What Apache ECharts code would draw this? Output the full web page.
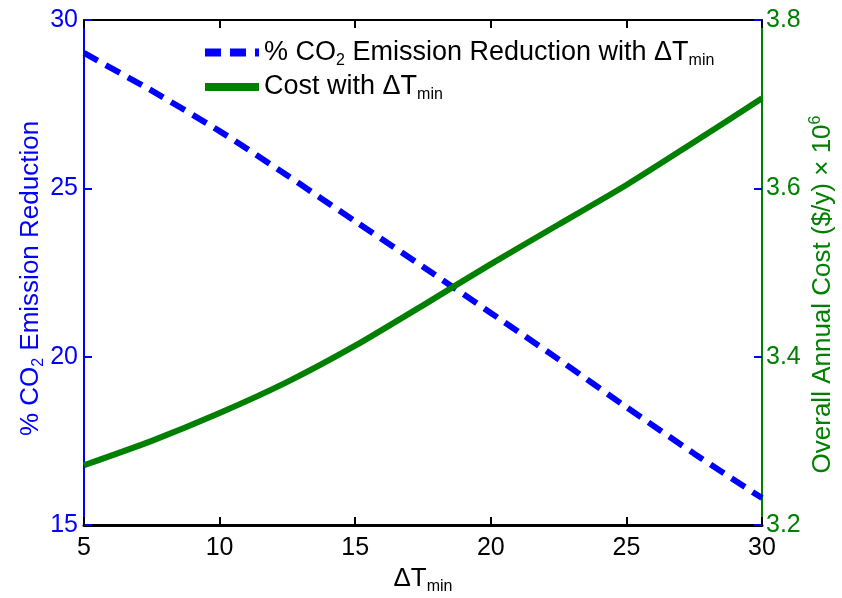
<!DOCTYPE html>
<html>
<head>
<meta charset="utf-8">
<script src="https://cdn.jsdelivr.net/npm/echarts@6/dist/echarts.min.js"></script>
<style>
  html, body { margin: 0; padding: 0; background: #fff; }
  #chart { width: 842px; height: 598px; }
</style>
</head>
<body>
<div id="chart"></div>
<script>
// ΔTmin values (x)
const dtMin = [5, 7.5, 10, 12.5, 15, 17.5, 20, 22.5, 25, 27.5, 30]
// % CO2 emission reduction (left axis)
const co2Reduction = [29.02, 27.9, 26.7, 25.38, 24.02, 22.67, 21.3, 19.92, 18.5, 17.12, 15.8]
// overall annual cost, x 10^6 $/y (right axis)
const annualCost = [3.271, 3.300, 3.333, 3.370, 3.413, 3.461, 3.510, 3.557, 3.604, 3.655, 3.707]

const xTicks = { min: 5, max: 30, interval: 5 }
const leftTicks = { min: 15, max: 30, interval: 5 }
const rightTicks = { min: 3.2, max: 3.8, interval: 0.2 }

const FONT = 'Liberation Sans, Arial, sans-serif'
const BLUE = '#0000ff'
const GREEN = '#007f00'

// sub/superscript styles for rich text
const richText = (color, size) => ({
  t: { fontFamily: FONT, fontSize: size, color: color },
  s: { fontFamily: FONT, fontSize: Math.round(size * 0.6), color: color, padding: [16, 0, 0, 0] },
  p: { fontFamily: FONT, fontSize: Math.round(size * 0.6), color: color, padding: [0, 0, 14, 0] }
})

const chart = echarts.init(document.getElementById('chart'))

const option = {
  animation: false,
  backgroundColor: '#fff',
  grid: { left: 84, right: 80, top: 20, bottom: 73, outerBoundsMode: 'none' },
  legend: {
    orient: 'vertical',
    left: 196,
    top: 34,
    itemWidth: 54,
    itemHeight: 16,
    itemGap: 5,
    data: ['co2', 'cost'],
    itemStyle: { opacity: 0 },
    lineStyle: { width: 8 },
    formatter: (name) => name === 'co2'
      ? '{t|% CO}{s|2}{t| Emission Reduction with ΔT}{s|min}'
      : '{t|Cost with ΔT}{s|min}',
    textStyle: { rich: richText('#000', 27) }
  },
  xAxis: [
    {
      type: 'value',
      min: xTicks.min, max: xTicks.max, interval: xTicks.interval,
      position: 'bottom',
      name: '{t|ΔT}{s|min}',
      nameLocation: 'middle',
      nameGap: 36,
      nameTextStyle: { rich: richText('#000', 26) },
      axisLine: { lineStyle: { color: '#000', width: 3 } },
      axisTick: { inside: true, length: 8, lineStyle: { color: '#000', width: 2 } },
      axisLabel: { color: '#000', fontSize: 25, fontFamily: FONT, margin: 11 },
      splitLine: { show: false }
    },
    {
      type: 'value',
      min: xTicks.min, max: xTicks.max, interval: xTicks.interval,
      position: 'top',
      axisLine: { lineStyle: { color: '#000', width: 2 } },
      axisTick: { inside: true, length: 8, lineStyle: { color: '#000', width: 2 } },
      axisLabel: { show: false },
      splitLine: { show: false }
    }
  ],
  yAxis: [
    {
      type: 'value',
      min: leftTicks.min, max: leftTicks.max, interval: leftTicks.interval,
      position: 'left',
      name: '{t|% CO}{s|2}{t| Emission Reduction}',
      nameLocation: 'middle',
      nameGap: 37,
      nameRotate: 90,
      nameMoveOverlap: false,
      nameTextStyle: { rich: richText(BLUE, 26), padding: [0, 12, 0, 0] },
      axisLine: { show: true, lineStyle: { color: BLUE, width: 2 } },
      axisTick: { show: true, inside: true, length: 8, lineStyle: { color: BLUE, width: 2 } },
      axisLabel: { color: BLUE, fontSize: 25, fontFamily: FONT, margin: 6 },
      splitLine: { show: false }
    },
    {
      type: 'value',
      min: rightTicks.min, max: rightTicks.max, interval: rightTicks.interval,
      position: 'right',
      name: '{t|Overall Annual Cost ($/y) × 10}{p|6}',
      nameLocation: 'middle',
      nameGap: 46,
      nameRotate: 90,
      nameMoveOverlap: false,
      nameTextStyle: { rich: richText(GREEN, 26), padding: [0, 44, 0, 0] },
      axisLine: { show: true, lineStyle: { color: GREEN, width: 2 } },
      axisTick: { show: true, inside: true, length: 8, lineStyle: { color: BLUE, width: 2 } },
      axisLabel: { color: GREEN, fontSize: 25, fontFamily: FONT, margin: 4, formatter: (v) => v.toFixed(1) },
      splitLine: { show: false }
    }
  ],
  series: [
    {
      name: 'co2',
      type: 'line',
      xAxisIndex: 0,
      yAxisIndex: 0,
      symbol: 'none',
      smooth: 0.2,
      lineStyle: { color: BLUE, width: 6, type: [16, 9] },
      itemStyle: { color: BLUE },
      data: dtMin.map((x, i) => [x, co2Reduction[i]])
    },
    {
      name: 'cost',
      type: 'line',
      xAxisIndex: 0,
      yAxisIndex: 1,
      symbol: 'none',
      smooth: 0.2,
      lineStyle: { color: GREEN, width: 6 },
      itemStyle: { color: GREEN },
      data: dtMin.map((x, i) => [x, annualCost[i]])
    }
  ]
}

chart.setOption(option)
</script>
</body>
</html>
